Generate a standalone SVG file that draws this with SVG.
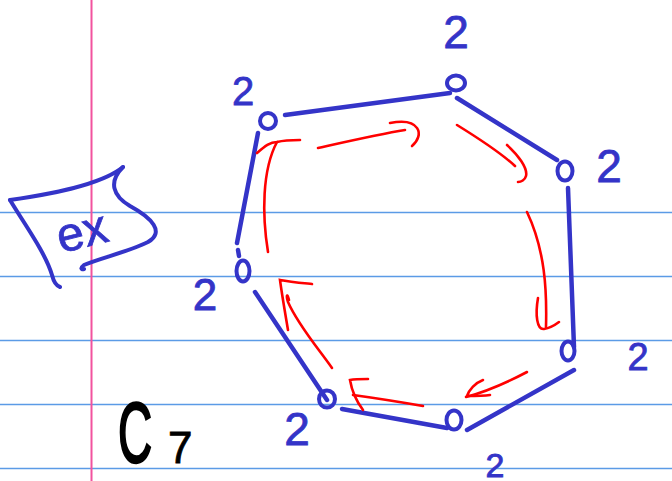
<svg xmlns="http://www.w3.org/2000/svg" width="672" height="481" viewBox="0 0 672 481">
<style>
.rule{stroke:#5b9be6;stroke-width:1.5}
.margin{stroke:#f2529e;stroke-width:2}
.edge{stroke:#3434c8;stroke-width:4.5;stroke-linecap:round;fill:none}
.vert{stroke:#3434c8;stroke-width:4;fill:none}
.lbl{font-family:"Liberation Sans","DejaVu Sans",sans-serif;fill:#3434c8;stroke:#3434c8;stroke-width:0.8;text-anchor:middle}
.red{stroke:#f00;stroke-width:2.6;stroke-linecap:round;fill:none}
.ink{stroke:#3434c8;stroke-width:4;stroke-linecap:round;fill:none}
</style>
<rect width="672" height="481" fill="#fff"/>
<g id="paper">
<line class="rule" x1="0" y1="212.5" x2="672" y2="212.5"/>
<line class="rule" x1="0" y1="276.5" x2="672" y2="276.5"/>
<line class="rule" x1="0" y1="340.5" x2="672" y2="340.5"/>
<line class="rule" x1="0" y1="404.5" x2="672" y2="404.5"/>
<line class="rule" x1="0" y1="468.5" x2="672" y2="468.5"/>
<line class="margin" x1="91.5" y1="0" x2="91.5" y2="481"/>
</g>
<g id="ex-box">
<path class="ink" d="M10,200 C45,195 100,186 123,167"/>
<path class="ink" d="M123,167 C108,182 113,196 130,206 C152,218 165,232 148,242 C128,252 100,258 84,265 C80,268 81,270 84,269"/>
<path class="ink" d="M10,200 C25,225 45,252 52,275 C54,283 57,286 60,287"/>
<text x="56" y="248" font-family="Liberation Sans, DejaVu Sans, sans-serif" font-size="48" fill="#3434c8" stroke="#3434c8" stroke-width="0.8" transform="rotate(-14 80 230)">ex</text>
</g>
<g id="title">
<text font-family="Liberation Sans, DejaVu Sans, sans-serif" font-size="86" fill="#000" stroke="#000" stroke-width="2.5" transform="translate(118 462) scale(0.55 1)">C</text>
<text x="168" y="463" font-family="Liberation Sans, DejaVu Sans, sans-serif" font-size="44" fill="#000" stroke="#000" stroke-width="0.8">7</text>
</g>
<g id="connectors">
<line class="edge" x1="285" y1="115" x2="450" y2="93"/>
<line class="edge" x1="457" y1="98" x2="557" y2="160"/>
<line class="edge" x1="568" y1="188" x2="574" y2="347"/>
<line class="edge" x1="574" y1="370" x2="467" y2="430"/>
<line class="edge" x1="447" y1="428" x2="342" y2="409"/>
<line class="edge" x1="327" y1="400" x2="255" y2="292"/>
<line class="edge" x1="237" y1="243" x2="258" y2="133"/>
<line class="edge" x1="238" y1="250" x2="239" y2="256"/>
</g>
<g id="v1"><ellipse class="vert" cx="268" cy="121" rx="8" ry="8"/><text class="lbl" x="243" y="105" font-size="40">2</text></g>
<g id="v2"><ellipse class="vert" cx="456" cy="83" rx="9" ry="7.5"/><text class="lbl" x="456" y="48" font-size="46">2</text></g>
<g id="v3"><ellipse class="vert" cx="565" cy="171" rx="7.5" ry="9.5"/><text class="lbl" x="609" y="182" font-size="46">2</text></g>
<g id="v4"><ellipse class="vert" cx="568" cy="351" rx="6.5" ry="9.5"/><text class="lbl" x="638" y="370" font-size="38">2</text></g>
<g id="v5"><ellipse class="vert" cx="454" cy="420" rx="7.5" ry="9.5"/><text class="lbl" x="495" y="477" font-size="34">2</text></g>
<g id="v6"><ellipse class="vert" cx="327" cy="399" rx="8" ry="8.5"/><text class="lbl" x="297" y="445" font-size="46">2</text></g>
<g id="v7"><ellipse class="vert" cx="243" cy="271" rx="6.5" ry="10.5"/><text class="lbl" x="205" y="310" font-size="44">2</text></g>
<g id="arrows">
<path class="red" d="M268,252 C262,215 262,170 277,142"/>
<path class="red" d="M257,153 C265,146 270,142 277,142 C285,140 293,140 300,140"/>
<path class="red" d="M318,148 C345,142 380,134 405,130"/>
<path class="red" d="M390,123 C420,117 425,135 412,146"/>
<path class="red" d="M457,125 C478,138 500,152 515,166"/>
<path class="red" d="M507,145 C518,155 528,168 526,176 C525,180 521,182 518,182"/>
<path class="red" d="M527,212 C545,250 547,290 546,327"/>
<path class="red" d="M538,298 C535,315 537,330 544,329 C550,328 555,325 559,322"/>
<path class="red" d="M527,372 C508,382 485,392 466,397"/>
<path class="red" d="M483,380 C475,383 469,390 467,396 C475,396 483,396 490,395"/>
<path class="red" d="M423,406 C400,402 375,398 353,395"/>
<path class="red" d="M368,379 C362,379 355,379 350,380 C352,392 357,402 363,410"/>
<path class="red" d="M332,368 C318,348 298,325 288,302 C286,296 287,292 289,300"/>
<path class="red" d="M288,330 C285,312 282,295 280,280 C290,282 302,283 312,284"/>
</g>
</svg>
